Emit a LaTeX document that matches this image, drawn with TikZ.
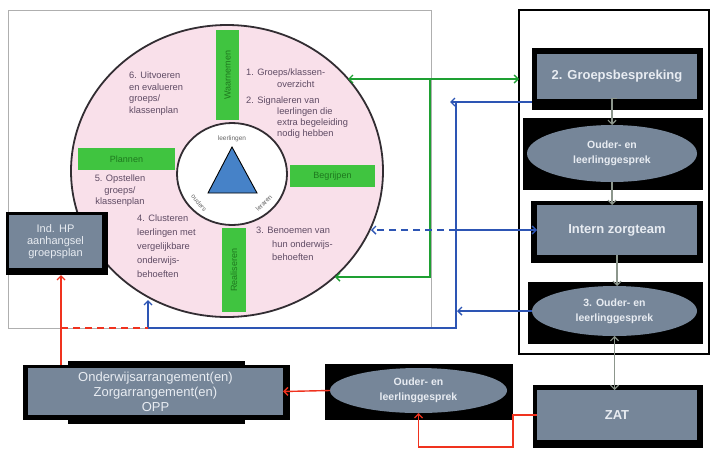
\documentclass[tikz,border=0pt]{standalone}
\usepackage{fontspec}
\setmainfont{Liberation Sans}
\usetikzlibrary{arrows.meta,shapes.geometric}
\definecolor{boxgray}{RGB}{118,134,153}
\definecolor{boxtext}{RGB}{232,236,242}
\definecolor{pinkfill}{RGB}{249,224,234}
\definecolor{bargreen}{RGB}{64,196,64}
\definecolor{bartext}{RGB}{30,120,30}
\definecolor{wtextc}{RGB}{95,75,100}
\definecolor{lgreen}{RGB}{30,160,50}
\definecolor{lblue}{RGB}{45,85,180}
\definecolor{lred}{RGB}{240,50,30}
\definecolor{agray}{RGB}{140,150,140}
\definecolor{framegray}{RGB}{175,175,175}
\definecolor{triblue}{RGB}{70,130,200}
\definecolor{wheelborder}{RGB}{50,45,50}
\tikzset{
  blk/.style={fill=black, draw=none, inner sep=0pt, outer sep=0pt},
  gbox/.style={fill=boxgray, draw=none, text=boxtext, font=\bfseries\fontsize{13}{15}\selectfont, align=center, inner sep=0pt, outer sep=0pt},
  gell/.style={ellipse, fill=boxgray, draw=none, text=boxtext, font=\bfseries\fontsize{10.5}{15}\selectfont, align=center, inner sep=0pt, outer sep=0pt},
  gbar/.style={fill=bargreen, draw=none, text=bartext, font=\fontsize{9}{10}\selectfont, inner sep=0pt, outer sep=0pt},
  wtext/.style={text=wtextc, font=\fontsize{9.3}{11.5}\selectfont, align=left, inner sep=0pt},
  itext/.style={text=black!60, font=\fontsize{6.5}{7}\selectfont, inner sep=0pt},
  tip/.style={-{Straight Barb[length=4pt,width=8pt]}},
  dtip/.style={{Straight Barb[length=4pt,width=8pt]}-{Straight Barb[length=4pt,width=8pt]}},
  gline/.style={draw=lgreen, line width=1.4pt},
  bline/.style={draw=lblue, line width=1.4pt},
  rline/.style={draw=lred, line width=1.4pt},
  aline/.style={draw=agray, line width=1.2pt},
}
\begin{document}
\begin{tikzpicture}[x=1pt,y=-1pt]
\useasboundingbox (0,0) rectangle (711,448);
% frames
\draw[framegray, line width=1pt] (8,10) rectangle (431,328);
\node[draw=black, line width=1.2pt, minimum width=190pt, minimum height=344pt, inner sep=0pt, outer sep=0pt, anchor=north west] (rframe) at (519,10) {};
% wheel
\draw[fill=pinkfill, draw=wheelborder, line width=1.8pt] (227,171) ellipse [x radius=156, y radius=146];
\node[gbar, minimum width=23pt, minimum height=90pt] (barT) at (227.5,75) {};
\node[gbar, rotate=90] at (barT) {Waarnemen};
\node[gbar, minimum width=85pt, minimum height=22pt, anchor=west] (barR) at (290,176) {Begrijpen};
\node[gbar, minimum width=97pt, minimum height=22pt] (barL) at (126.5,159) {Plannen};
\node[gbar, minimum width=24pt, minimum height=84pt] (barB) at (234,270) {};
\node[gbar, rotate=90] at (barB) {Realiseren};
\draw[fill=white, draw=wheelborder, line width=1.8pt] (232,174) ellipse [x radius=55, y radius=51];
\draw[fill=triblue, draw=black, line width=0.9pt] (232,147) -- (208,193) -- (257,193) -- cycle;
\node[itext] (lln) at (232,139) {leerlingen};
\node[itext, rotate=-50] (oud) at (199,203) {ouders};
\node[itext, rotate=45] (ler) at (264,203) {leraren};
% wheel texts
\node[wtext, anchor=north west] (t6) at (129,72) {6. Uitvoeren\\en evalueren\\groeps/\\klassenplan};
\node[wtext, anchor=north west] (t1) at (246,69) {1. Groeps/klassen-\\\hspace*{31pt}overzicht};
\node[wtext, anchor=north west, font=\fontsize{9.3}{10.8}\selectfont] (t2) at (246,97) {2. Signaleren van\\\hspace*{31pt}leerlingen die\\\hspace*{31pt}extra begeleiding\\\hspace*{31pt}nodig hebben};
\node[wtext, align=center] (t5) at (120,191) {5. Opstellen\\groeps/\\klassenplan};
\node[wtext, anchor=north west, font=\fontsize{9.3}{14}\selectfont] (t4) at (137,215) {4. Clusteren\\leerlingen met\\vergelijkbare\\onderwijs-\\behoeften};
\node[wtext, anchor=north west, font=\fontsize{9.3}{13.5}\selectfont] (t3) at (256,227) {3. Benoemen van\\\hspace*{16pt}hun onderwijs-\\\hspace*{16pt}behoeften};
% right column
\node[blk, minimum width=171pt, minimum height=62pt] (gb-bg) at (617.5,79) {};
\node[gbox, minimum width=160pt, minimum height=45pt] (gb) at (617,76) {2. Groepsbespreking};
\node[blk, minimum width=180pt, minimum height=72pt] (o1-bg) at (613,154) {};
\node[gell, minimum width=170pt, minimum height=57pt] (o1) at (612,153.5) {Ouder- en\\leerlinggesprek};
\node[blk, minimum width=172pt, minimum height=62pt] (iz-bg) at (617,232) {};
\node[gbox, minimum width=160pt, minimum height=50pt] (iz) at (617,230) {Intern zorgteam};
\node[blk, minimum width=175pt, minimum height=62pt] (o3-bg) at (615.5,313) {};
\node[gell, minimum width=165pt, minimum height=50pt] (o3) at (614.5,311) {3. Ouder- en\\leerlinggesprek};
\node[blk, minimum width=170pt, minimum height=63pt] (zat-bg) at (618,416.5) {};
\node[gbox, minimum width=160pt, minimum height=50pt] (zat) at (617,415) {ZAT};
% bottom middle
\node[blk, minimum width=188pt, minimum height=56pt] (om-bg) at (419,392) {};
\node[gell, minimum width=177pt, minimum height=45pt] (om) at (418.5,390.5) {Ouder- en\\leerlinggesprek};
% bottom left
\node[blk, minimum width=267pt, minimum height=55pt] (ol-bg) at (156.5,392.5) {};
\node[blk, minimum width=177pt, minimum height=63pt] (ol-band) at (156.5,392.5) {};
\node[gbox, minimum width=255pt, minimum height=47pt, font=\fontsize{13}{15}\selectfont] (ol) at (155.5,391.5) {Onderwijsarrangement(en)\\Zorgarrangement(en)\\OPP};
% Ind HP
\node[blk, minimum width=102pt, minimum height=63pt] (ih-bg) at (57,243.5) {};
\node[gbox, minimum width=93pt, minimum height=53pt, font=\fontsize{11}{12}\selectfont] (ih) at (55.5,241.5) {Ind. HP\\aanhangsel\\groepsplan};
% gray arrows
\draw[aline, tip] (gb.south) -- (gb.south -| o1.north) -- (o1.north);
\draw[aline, tip] (o1.south) -- (iz.north -| o1.south);
\draw[aline, tip] (iz.south) -- (iz.south |- o3.north);
\draw[aline, dtip] (o3.south) -- (o3.south |- zat.north);
% green connectors
\coordinate (gA) at (348,79);
\coordinate (gJ) at (430,79);
\coordinate (gB) at (335,277);
\draw[gline, dtip] (gA) -- (rframe.west |- gA);
\draw[gline, tip] (gJ) |- (gB);
% blue connectors
\coordinate (bA) at (450,102);
\coordinate (bTop) at (456,102);
\coordinate (bC1) at (456,328);
\coordinate (bC2) at (148,328);
\coordinate (bUp) at (148,300);
\coordinate (bB) at (457,311);
\coordinate (bD) at (371,230);
\coordinate (bDm) at (456,230);
\draw[bline, tip] (gb-bg.west |- bA) -- (bA);
\draw[bline, tip] (bTop) -- (bC1) -- (bC2) -- (bUp);
\draw[bline, tip] (o3.west) -- (bB);
\draw[bline, dashed, dash pattern=on 7pt off 5pt, tip] (bDm) -- (bD);
\draw[bline, tip] (bDm) -- (iz.west |- bDm);
% red connectors
\coordinate (rX) at (61,328);
\draw[rline, tip] (ol-bg.north -| rX) -- (ih-bg.south -| rX);
\draw[rline, dashed, dash pattern=on 7pt off 5pt] (rX) -- (bC2);
\draw[rline, tip] (om.west) -- (ol.east);
\coordinate (rZ1) at (513,415);
\coordinate (rZ2) at (513,447);
\coordinate (rZ3) at (418.5,447);
\draw[rline, tip] (zat.west) -- (rZ1) -- (rZ2) -- (rZ3) -- (om.south);
\end{tikzpicture}
\end{document}
